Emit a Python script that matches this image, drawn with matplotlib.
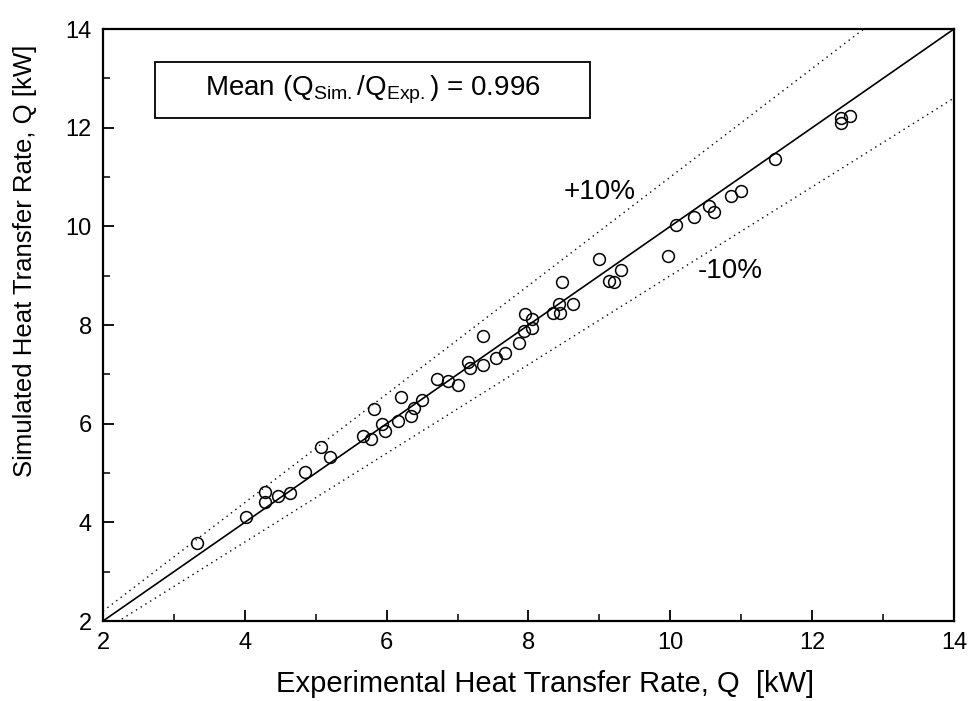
import numpy as np
import matplotlib
matplotlib.use('Agg')
import matplotlib.pyplot as plt
from matplotlib.ticker import MultipleLocator
from matplotlib.patches import Rectangle

# experimental vs simulated heat transfer rate [kW]
q_exp = [3.32, 4.01, 4.28, 4.28, 4.47, 4.64, 4.85, 5.07, 5.20, 5.66,
         5.78, 5.82, 5.94, 5.97, 6.16, 6.20, 6.34, 6.38, 6.50, 6.71,
         6.86, 7.01, 7.14, 7.18, 7.36, 7.36, 7.54, 7.67, 7.87, 7.94,
         7.95, 8.05, 8.05, 8.34, 8.43, 8.45, 8.47, 8.63, 9.00, 9.14,
         9.21, 9.30, 9.97, 10.08, 10.34, 10.54, 10.61, 10.85, 11.00, 11.47,
         12.40, 12.40, 12.54]
q_sim = [3.58, 4.10, 4.42, 4.62, 4.54, 4.60, 5.03, 5.52, 5.33, 5.75,
         5.69, 6.29, 6.00, 5.86, 6.06, 6.55, 6.16, 6.31, 6.48, 6.91,
         6.87, 6.79, 7.24, 7.13, 7.19, 7.78, 7.34, 7.44, 7.64, 7.87,
         8.22, 8.13, 7.93, 8.25, 8.42, 8.25, 8.87, 8.42, 9.33, 8.89,
         8.87, 9.12, 9.40, 10.02, 10.19, 10.41, 10.29, 10.61, 10.72, 11.37,
         12.19, 12.10, 12.24]
band = 0.10
mean_ratio = 0.996

plt.rcParams['font.family'] = ['Liberation Sans', 'DejaVu Sans']

fig = plt.figure(figsize=(9.7, 7.01), dpi=100)
ax = fig.add_axes([103 / 970, 1 - 621 / 701, 851 / 970, 592 / 701])

xx = np.array([2, 14])
ax.plot(xx, xx, color='black', lw=1.2)
ax.plot(xx, xx * (1 + band), color='black', lw=1.0, ls=(0, (1, 3)))
ax.plot(xx, xx * (1 - band), color='black', lw=1.0, ls=(0, (1, 3)))
ax.plot(q_exp, q_sim, 'o', mfc='none', mec='black', ms=8.5, mew=1.1)

ax.set_xlim(2, 14)
ax.set_ylim(2, 14)
ax.xaxis.set_major_locator(MultipleLocator(2))
ax.yaxis.set_major_locator(MultipleLocator(2))
ax.xaxis.set_minor_locator(MultipleLocator(1))
ax.yaxis.set_minor_locator(MultipleLocator(1))
ax.tick_params(which='major', direction='in', length=8, width=1.3, labelsize=17, pad=8)
ax.tick_params(which='minor', direction='in', length=5, width=1.1)
for s in ax.spines.values():
    s.set_linewidth(1.6)

ax.set_xlabel('Experimental Heat Transfer Rate, Q  [kW]', fontsize=21)
ax.set_ylabel('Simulated Heat Transfer Rate, Q [kW]', fontsize=18.5)
ax.xaxis.set_label_coords(0.52, -0.083)
ax.yaxis.set_label_coords(-0.078, 0.608)

ax.text(9.0, 10.7, '+10%', fontsize=20, ha='center', va='center')
ax.text(10.85, 9.09, '-10%', fontsize=20, ha='center', va='center')

ax.add_patch(Rectangle((2.73, 12.20), 6.14, 1.14, fc='white', ec='black', lw=1.3, zorder=3))
ax.text(5.80, 12.77, r'Mean (Q$_{\mathregular{Sim.}}$/Q$_{\mathregular{Exp.}}$) = ' + f'{mean_ratio:.3f}',
        fontsize=20, ha='center', va='center', zorder=4)

fig.savefig('out.png', dpi=100)
